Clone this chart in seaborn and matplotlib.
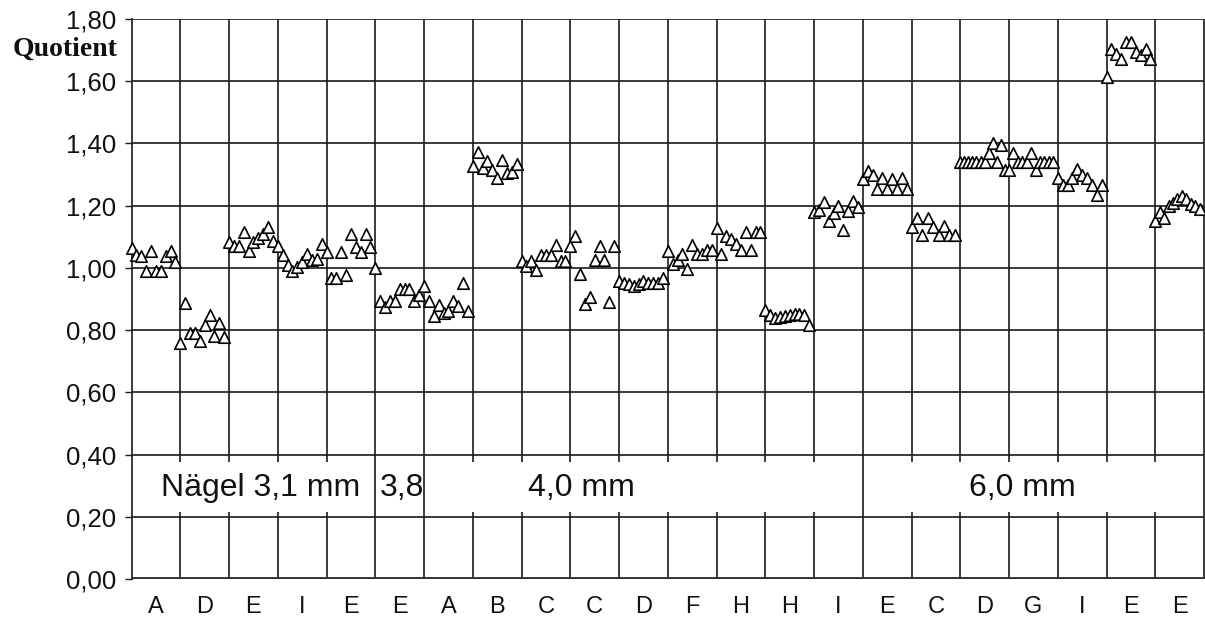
import numpy as np
import pandas as pd
import matplotlib
matplotlib.use("Agg")
import matplotlib.pyplot as plt
import seaborn as sns

# ---- data -----------------------------------------------------------------
categories = ["A", "D", "E", "I", "E", "E", "A", "B", "C", "C", "D",
              "F", "H", "H", "I", "E", "C", "D", "G", "I", "E", "E"]

v01_A = [1.065, 1.040, 1.037, 0.990, 1.053, 0.990, 0.990, 1.037, 1.053, 1.020]
v02_D = [0.757, 0.886, 0.791, 0.791, 0.765, 0.818, 0.850, 0.781, 0.823, 0.779]
v03_E = [1.083, 1.069, 1.070, 1.114, 1.054, 1.082, 1.095, 1.108, 1.130, 1.086]
v04_I = [1.070, 1.040, 1.009, 0.990, 1.003, 1.019, 1.046, 1.024, 1.027, 1.076]
v05_E = [1.052, 0.968, 0.967, 1.052, 0.976, 1.110, 1.068, 1.052, 1.110, 1.068]
v06_E = [0.999, 0.895, 0.873, 0.894, 0.895, 0.931, 0.933, 0.933, 0.894, 0.912]
v07_A = [0.943, 0.893, 0.846, 0.882, 0.855, 0.862, 0.893, 0.877, 0.950, 0.861]
v08_B = [1.329, 1.373, 1.320, 1.342, 1.314, 1.290, 1.348, 1.304, 1.309, 1.335]
v09_C = [1.022, 1.007, 1.022, 0.994, 1.042, 1.042, 1.042, 1.072, 1.022, 1.022]
v10_C = [1.071, 1.103, 0.980, 0.885, 0.905, 1.024, 1.071, 1.024, 0.890, 1.071]
v11_D = [0.957, 0.951, 0.947, 0.941, 0.948, 0.958, 0.952, 0.952, 0.952, 0.968]
v12_F = [1.055, 1.012, 1.026, 1.045, 0.996, 1.073, 1.044, 1.044, 1.059, 1.057]
v13_H = [1.127, 1.045, 1.102, 1.093, 1.077, 1.056, 1.114, 1.059, 1.114, 1.114]
v14_H = [0.865, 0.850, 0.840, 0.842, 0.845, 0.849, 0.852, 0.852, 0.849, 0.817]
v15_I = [1.179, 1.187, 1.211, 1.150, 1.176, 1.198, 1.121, 1.182, 1.214, 1.196]
v16_E = [1.285, 1.310, 1.300, 1.255, 1.290, 1.255, 1.285, 1.255, 1.290, 1.255]
v17_C = [1.130, 1.160, 1.105, 1.160, 1.130, 1.105, 1.135, 1.105, 1.105]
v18_D = [1.340, 1.340, 1.340, 1.340, 1.340, 1.340, 1.340, 1.368, 1.400, 1.340,
         1.394, 1.315]
v19_G = [1.315, 1.368, 1.340, 1.340, 1.340, 1.368, 1.315, 1.340, 1.340, 1.340,
         1.340]
v20_I = [1.290, 1.265, 1.265, 1.290, 1.318, 1.300, 1.290, 1.265, 1.235, 1.265]
v21_E = [1.614, 1.705, 1.687, 1.673, 1.727, 1.727, 1.695, 1.684, 1.705, 1.673]
v22_E = [1.150, 1.180, 1.160, 1.200, 1.210, 1.220, 1.230, 1.220, 1.205, 1.200,
         1.190]

groups = [v01_A, v02_D, v03_E, v04_I, v05_E, v06_E, v07_A, v08_B, v09_C,
          v10_C, v11_D, v12_F, v13_H, v14_H, v15_I, v16_E, v17_C, v18_D,
          v19_G, v20_I, v21_E, v22_E]

y_ticks = [0.0, 0.2, 0.4, 0.6, 0.8, 1.0, 1.2, 1.4, 1.6, 1.8]
band_labels = ["Nägel 3,1 mm", "3,8", "4,0 mm", "6,0 mm"]
y_title = "Quotient"

# ---- build table -----------------------------------------------------------
rows = []
for g, vals in enumerate(groups):
    n = len(vals)
    for j, v in enumerate(vals):
        rows.append({"pos": g + j / n, "value": v, "group": categories[g]})
df = pd.DataFrame(rows)

# ---- figure ----------------------------------------------------------------
sns.set_theme(style="white")
plt.rcParams["font.family"] = ["Liberation Sans", "DejaVu Sans"]

W, H = 1205, 620
fig = plt.figure(figsize=(W / 100, H / 100), dpi=100)
ax = fig.add_axes([131.5 / W, 1 - 579 / H, (1204 - 131.5) / W, (579 - 19) / H])

ncat = len(categories)
ax.set_xlim(0, ncat)
ax.set_ylim(0, 1.8)

line_col = "#1a1a1a"
glw = 1.2
# horizontal grid
for yt in y_ticks[1:]:
    ax.axhline(yt, color=line_col, lw=glw, zorder=1)
# vertical boundaries, interrupted inside the label band
band_lo, band_hi = 0.215, 0.375
full_lines = {0, 5, 6, 15, ncat}
for b in range(1, ncat + 1):
    if b in full_lines:
        ax.vlines(b, 0, 1.8, color=line_col, lw=glw, zorder=1, clip_on=False)
    else:
        ax.vlines(b, 0, band_lo, color=line_col, lw=glw, zorder=1)
        ax.vlines(b, band_hi, 1.8, color=line_col, lw=glw, zorder=1)
ax.axhline(0, color="#333333", lw=2.8, zorder=2)

sns.scatterplot(data=df, x="pos", y="value", marker="^", s=68,
                color="white", edgecolor="black", linewidth=1.2,
                ax=ax, zorder=4, legend=False, clip_on=False)

# band labels
band_pos = [2.65, 5.55, 9.23, 18.27]
for txt, xp in zip(band_labels, band_pos):
    ax.text(xp, 0.292, txt, ha="center", va="center", fontsize=23,
            color="#111111", zorder=5)

# axes styling
for s in ["top", "right", "bottom"]:
    ax.spines[s].set_visible(False)
ax.spines["left"].set_color(line_col)
ax.spines["left"].set_linewidth(glw)

ax.set_yticks(y_ticks)
ax.set_yticklabels([f"{v:.2f}".replace(".", ",") for v in y_ticks],
                   fontsize=18.5, color="#111111")
ax.tick_params(axis="y", direction="out", length=5, width=1.0,
               color=line_col, pad=6, left=True)
ax.set_xticks(np.arange(ncat) + 0.5)
ax.set_xticklabels(categories, fontsize=17, color="#111111")
ax.tick_params(axis="x", length=0, pad=12)
ax.set_xlabel("")
ax.set_ylabel("")

fig.text(118 / W, 1 - 49 / H, y_title, ha="right", va="center",
         fontsize=20, fontweight="bold", family="Liberation Serif",
         color="#111111")

fig.savefig("out.png", dpi=100, facecolor="white")
